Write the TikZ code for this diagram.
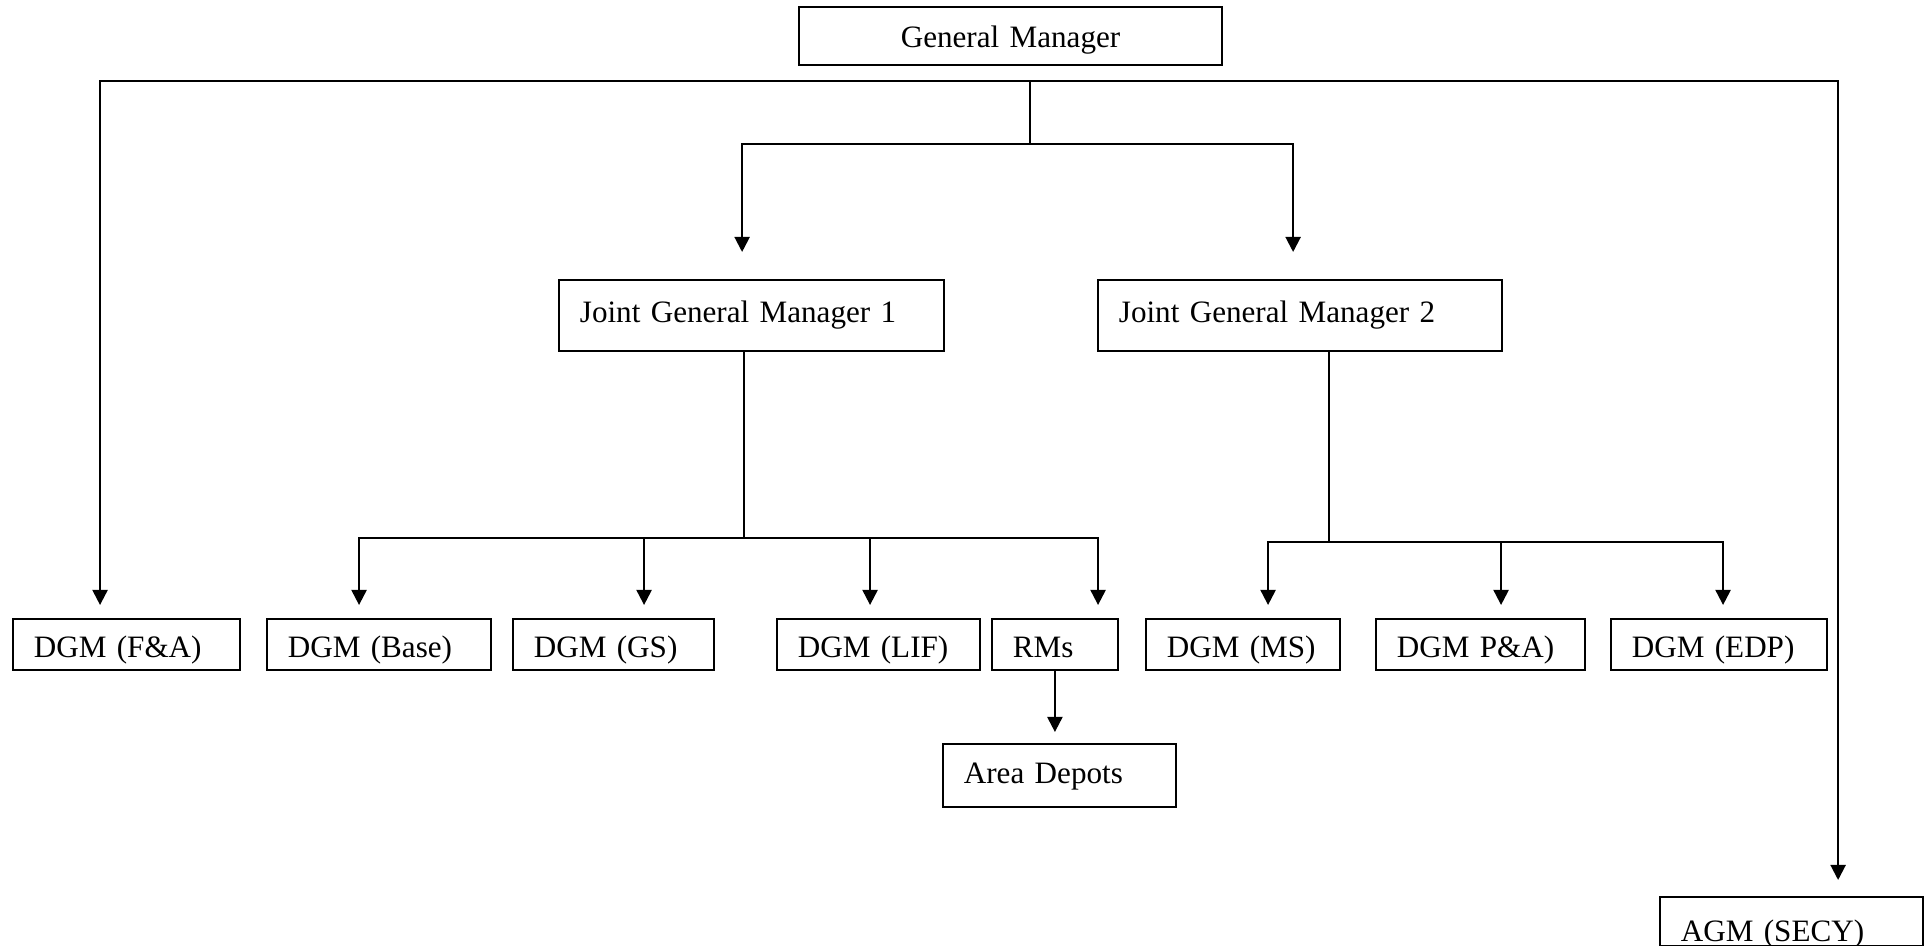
\documentclass[tikz,border=0pt]{standalone}
\usepackage{fontspec}
\setmainfont{Liberation Serif}
\usepackage{tikz}
\usetikzlibrary{positioning}
\usetikzlibrary{arrows.meta}
\tikzset{
	every node/.style = {font=\fontsize{8.85}{11}\selectfont},
	box/.style = {draw, line width=0.5pt, anchor=north west, inner xsep=0.21cm, inner ysep=0pt, align=left},
	toprow/.style = {box, align=center, text height=0.41cm, text depth=0.17cm},
	jointrow/.style = {box, text height=0.43cm, text depth=0.28cm},
	dgmrow/.style = {box, text height=0.39cm, text depth=0.12cm},
	link/.style = {line width=0.6pt},
	thinlink/.style = {line width=0.4pt},
	arrowlink/.style = {link, -{Triangle[width=4.3pt, length=4.3pt]}}
}
\begin{document}
\begin{tikzpicture}[x=0.01cm, y=-0.01cm]
		\useasboundingbox (0,0) rectangle (1930,946);
		% boxes
		\node[toprow, text width=3.81cm] (gm) at (798,6) {General Manager};
		\node[jointrow, text width=3.43cm] (jgm1) at (558,279) {Joint General Manager 1};
		\node[jointrow, text width=3.62cm] (jgm2) at (1097,279) {Joint General Manager 2};
		
		\node[dgmrow, text width=1.85cm] (fa) at (12,618) {DGM (F\&A)};
		\node[dgmrow, text width=1.82cm] (base) at (266,618) {DGM (Base)};
		\node[dgmrow, text width=1.59cm] (gs) at (512,618) {DGM (GS)};
		\node[dgmrow, text width=1.61cm] (lif) at (776,618) {DGM (LIF)};
		\node[dgmrow, text width=0.84cm] (rms) at (991,618) {RMs};
		\node[dgmrow, text width=1.52cm] (ms) at (1145,618) {\mbox{DGM (MS)}};
		\node[dgmrow, text width=1.67cm] (pa) at (1375,618) {DGM P\&A)};
		\node[dgmrow, text width=1.74cm] (edp) at (1610,618) {DGM (EDP)};
		
		\node[box, text width=1.91cm, text height=0.40cm, text depth=0.23cm] (depots) at (942,743) {Area Depots};
		\node[box, text width=2.21cm, text height=0.45cm, text depth=0.04cm] (agm) at (1659,896) {AGM (SECY)};
		
		% arrow ends
		\coordinate (jgm1-in) at ([xshift=1.84cm, yshift=0.27cm]jgm1.north west);
		\coordinate (jgm2-in) at ([xshift=1.96cm, yshift=0.27cm]jgm2.north west);
		\coordinate (fa-in) at ([xshift=0.88cm, yshift=0.13cm]fa.north west);
		\coordinate (base-in) at ([xshift=0.93cm, yshift=0.13cm]base.north west);
		\coordinate (gs-in) at ([xshift=1.32cm, yshift=0.13cm]gs.north west);
		\coordinate (lif-in) at ([xshift=0.94cm, yshift=0.13cm]lif.north west);
		\coordinate (rms-in) at ([xshift=1.07cm, yshift=0.13cm]rms.north west);
		\coordinate (ms-in) at ([xshift=1.23cm, yshift=0.13cm]ms.north west);
		\coordinate (pa-in) at ([xshift=1.26cm, yshift=0.13cm]pa.north west);
		\coordinate (edp-in) at ([xshift=1.13cm, yshift=0.13cm]edp.north west);
		\coordinate (agm-in) at ([xshift=1.79cm, yshift=0.16cm]agm.north west);
		\coordinate (depots-in) at ([yshift=0.11cm]depots.north west);
		
		% depth 1
		\coordinate (gmbus) at (1030,81);
		\coordinate (jbus) at (1030,144);
		\draw[arrowlink] (gmbus) -| (fa-in);
		\draw[arrowlink] (gmbus) -| (agm-in);
		\draw[thinlink] (gmbus) -- (jbus);
		\foreach \n in {jgm1, jgm2}
			\draw[arrowlink] (jbus) -| (\n-in);
		
		% depth 2
		\coordinate (j1bus) at (744,538);
		\draw[thinlink] (jgm1.south -| j1bus) -- (j1bus);
		\foreach \n in {base, gs, lif, rms}
			\draw[arrowlink] (j1bus) -| (\n-in);
		
		\coordinate (j2bus) at (1329,542);
		\draw[link] (jgm2.south -| j2bus) -- (j2bus);
		\foreach \n in {ms, pa, edp}
			\draw[arrowlink] (j2bus) -| (\n-in);
		
		% depth 3
		\draw[arrowlink] (rms.south) -- (rms.south |- depots-in);
	\end{tikzpicture}
\end{document}
